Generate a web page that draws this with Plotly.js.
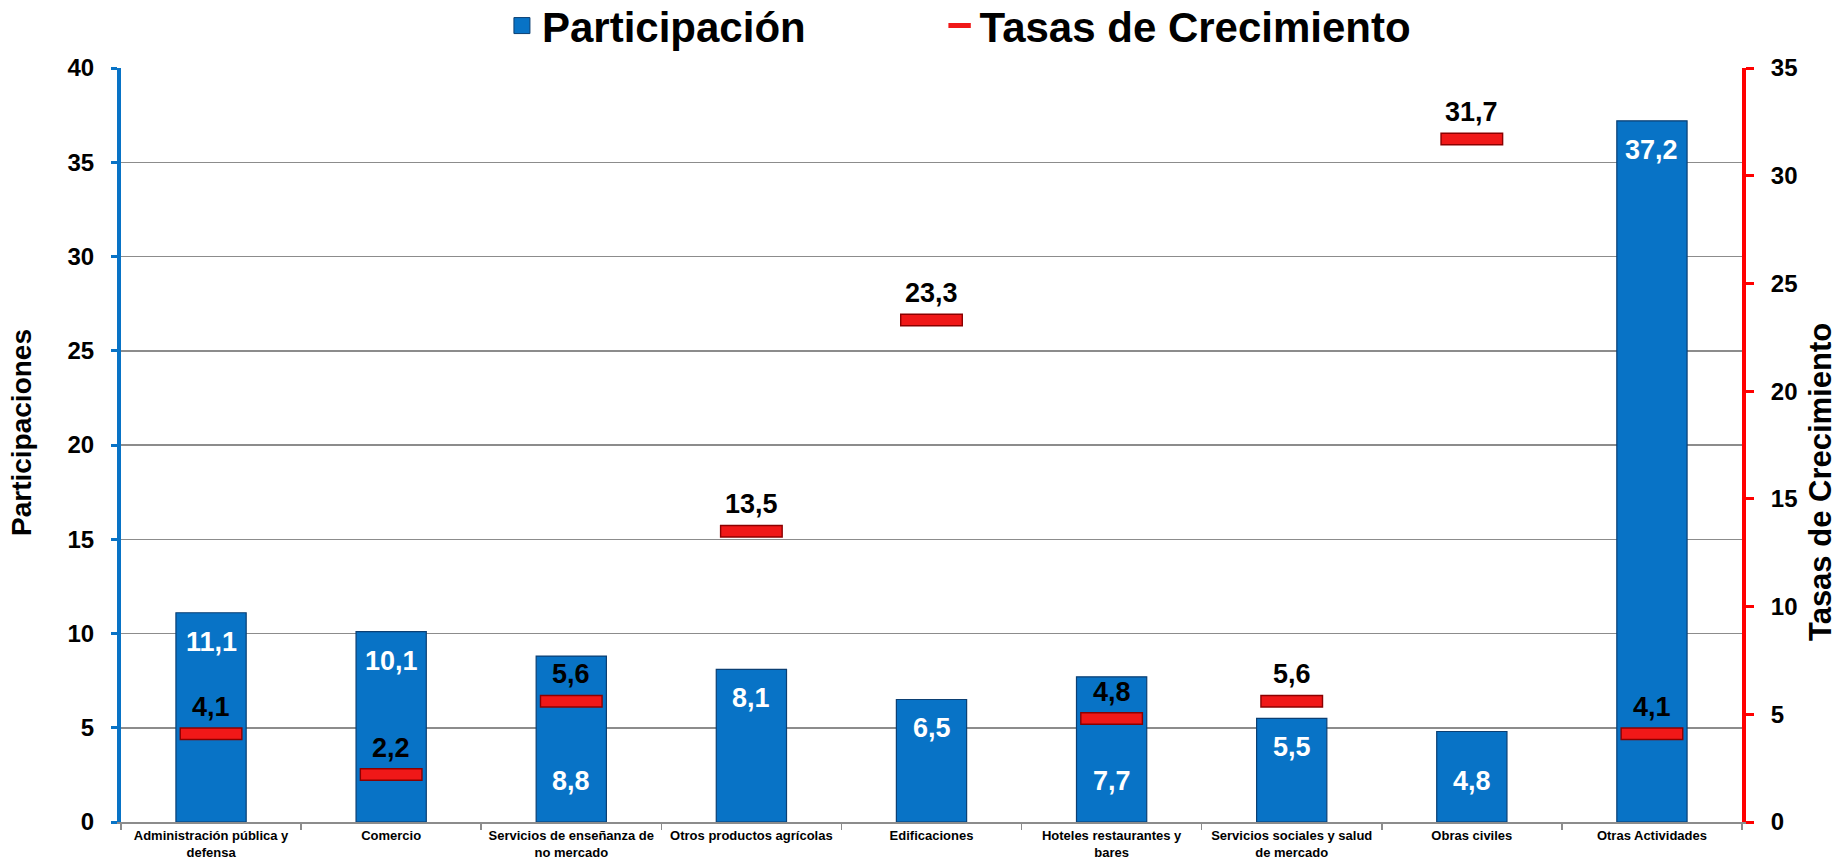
<!DOCTYPE html>
<html>
<head>
<meta charset="utf-8">
<script src="https://cdn.plot.ly/plotly-3.0.1.min.js"></script>
<style>html,body{margin:0;padding:0;background:#fff;}#chart{width:1841px;height:860px;}</style>
</head>
<body>
<div id="chart"></div>
<script>
const categories = [
  "Administración pública y<br>defensa",
  "Comercio",
  "Servicios de enseñanza de<br>no mercado",
  "Otros productos agrícolas",
  "Edificaciones",
  "Hoteles restaurantes y<br>bares",
  "Servicios sociales y salud<br>de mercado",
  "Obras civiles",
  "Otras Actividades"
];
const participacion = [11.1, 10.1, 8.8, 8.1, 6.5, 7.7, 5.5, 4.8, 37.2];
const tasas = [4.1, 2.2, 5.6, 13.5, 23.3, 4.8, 5.6, 31.7, 4.1];
const labelAtBase = [false, false, true, false, false, true, false, true, false];
const leftTitle = 'Participaciones';
const rightTitle = 'Tasas de Crecimiento';

const fmt = v => v.toFixed(1).replace('.', ',');
const FONT = "Liberation Sans, Arial, sans-serif";
const BLUE = '#0873C6';

const barTrace = {
  type: 'bar', name: 'Participación', x: categories, y: participacion,
  width: 0.39, showlegend: false,
  marker: {color: BLUE, line: {color: '#0B3F73', width: 1.2}},
  hoverinfo: 'x+y', yaxis: 'y'
};
// legend-only entry (no data) so the legend key can be a larger square
const barLegend = {
  type: 'scatter', mode: 'markers', name: 'Participación', x: [null], y: [null],
  legend: 'legend', showlegend: true, hoverinfo: 'skip',
  marker: {symbol: 'square', size: 16, color: BLUE, line: {color: '#0B3F73', width: 1}}
};
const rateShadow = {
  type: 'scatter', mode: 'markers', x: categories, y: tasas, yaxis: 'y2',
  showlegend: false, hoverinfo: 'skip',
  marker: {symbol: 'line-ew', size: 45, color: '#8B0000', line: {color: '#8B0000', width: 13}}
};
const rateTrace = {
  type: 'scatter', mode: 'markers', name: 'Tasas de Crecimiento', x: categories, y: tasas, yaxis: 'y2',
  legend: 'legend2', showlegend: true,
  marker: {symbol: 'line-ew', size: 43, color: '#F01818', line: {color: '#F01818', width: 10}}
};

const annotations = [];
const labFont = c => ({family: FONT, size: 27, color: c, weight: 'bold'});
categories.forEach((c, i) => {
  if (labelAtBase[i]) {
    annotations.push({x: c, y: 0, xref: 'x', yref: 'y', text: fmt(participacion[i]), showarrow: false,
      yanchor: 'middle', yshift: 41, font: labFont('#fff')});
  } else {
    annotations.push({x: c, y: participacion[i], xref: 'x', yref: 'y', text: fmt(participacion[i]), showarrow: false,
      yanchor: 'middle', yshift: -29, font: labFont('#fff')});
  }
  annotations.push({x: c, y: tasas[i], xref: 'x', yref: 'y2', text: fmt(tasas[i]), showarrow: false,
    yanchor: 'middle', yshift: 27, font: labFont('#000')});
});
// axis titles
annotations.push({text: leftTitle, xref: 'paper', yref: 'paper', x: 0, y: 0.5, xanchor: 'center', yanchor: 'middle',
  xshift: -100, yshift: 12, textangle: -90, showarrow: false, font: {family: FONT, size: 28, color: '#000', weight: 'bold'}});
annotations.push({text: rightTitle, xref: 'paper', yref: 'paper', x: 1, y: 0.5, xanchor: 'center', yanchor: 'middle',
  xshift: 78, yshift: -37, textangle: -90, showarrow: false, font: {family: FONT, size: 31, color: '#000', weight: 'bold'}});

const legFont = {family: FONT, size: 42, color: '#000', weight: 'bold'};
const layout = {
  width: 1841, height: 860,
  margin: {l: 121, r: 99, t: 68, b: 38, autoexpand: false},
  paper_bgcolor: '#fff', plot_bgcolor: '#fff',
  font: {family: FONT, color: '#000'},
  showlegend: true,
  legend: {orientation: 'h', x: 0.235, xanchor: 'left', y: 1.056, yanchor: 'middle',
    font: legFont, itemsizing: 'trace', bgcolor: 'rgba(0,0,0,0)'},
  legend2: {orientation: 'h', x: 0.505, xanchor: 'left', y: 1.056, yanchor: 'middle',
    font: legFont, itemsizing: 'trace', bgcolor: 'rgba(0,0,0,0)'},
  xaxis: {
    type: 'category', range: [-0.5, 8.5], autorange: false, showline: true, linecolor: '#8c8c8c', linewidth: 2,
    ticks: 'outside', tickson: 'boundaries', ticklen: 6, tickcolor: '#8c8c8c', tickwidth: 1.5,
    tickfont: {family: FONT, size: 13, color: '#000', weight: 'bold'}, showgrid: false, zeroline: false,
    automargin: false
  },
  yaxis: {
    range: [0, 40], dtick: 5, showline: true, linecolor: BLUE, linewidth: 4,
    ticks: 'outside', ticklen: 6, tickwidth: 3, tickcolor: BLUE, ticklabelstandoff: 12,
    showgrid: true, gridcolor: '#8c8c8c', gridwidth: 1.5, zeroline: false, automargin: false,
    tickfont: {family: FONT, size: 24, color: '#000', weight: 'bold'}
  },
  yaxis2: {
    range: [0, 35], dtick: 5, overlaying: 'y', side: 'right', showline: true, linecolor: '#FF0000', linewidth: 4,
    ticks: 'outside', ticklen: 8, tickwidth: 3, tickcolor: '#FF0000', ticklabelstandoff: 12,
    showgrid: false, zeroline: false, automargin: false,
    tickfont: {family: FONT, size: 24, color: '#000', weight: 'bold'}
  },
  annotations: annotations
};

Plotly.newPlot('chart', [barTrace, rateShadow, rateTrace, barLegend], layout, {displayModeBar: false, staticPlot: true});
</script>
</body>
</html>
